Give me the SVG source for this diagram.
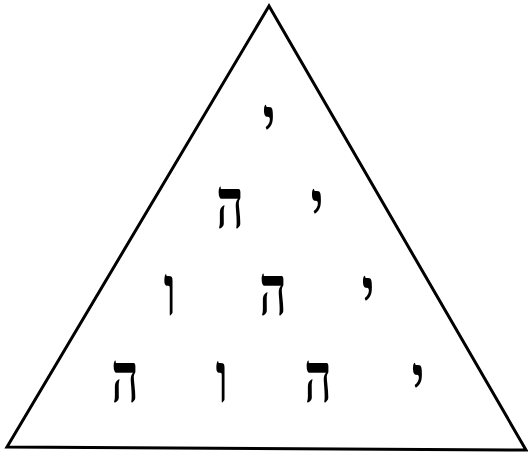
<svg xmlns="http://www.w3.org/2000/svg" width="528" height="460" viewBox="0 0 528 460">
<style>
.l{font-family:"Liberation Serif","DejaVu Serif",serif;font-size:48px;font-weight:bold;fill:#000;text-anchor:middle}
</style>
<rect width="528" height="460" fill="#fff"/>
<g id="triangle">
<polygon points="269,6 7,447 526,450" fill="none" stroke="#000" stroke-width="3" stroke-linejoin="miter"/>
</g>
<g id="row1"><text class="l" transform="translate(269,146) scale(1,1.45)">י</text></g>
<g id="row2"><text class="l" transform="translate(230,228) scale(1,1.45)">ה</text><text class="l" transform="translate(317,230) scale(1,1.45)">י</text></g>
<g id="row3"><text class="l" transform="translate(170,315) scale(1,1.45)">ו</text><text class="l" transform="translate(273,315) scale(1,1.45)">ה</text><text class="l" transform="translate(368,317) scale(1,1.45)">י</text></g>
<g id="row4"><text class="l" transform="translate(125,402) scale(1,1.45)">ה</text><text class="l" transform="translate(222,402) scale(1,1.45)">ו</text><text class="l" transform="translate(318,402) scale(1,1.45)">ה</text><text class="l" transform="translate(418,404) scale(1,1.45)">י</text></g>
</svg>
